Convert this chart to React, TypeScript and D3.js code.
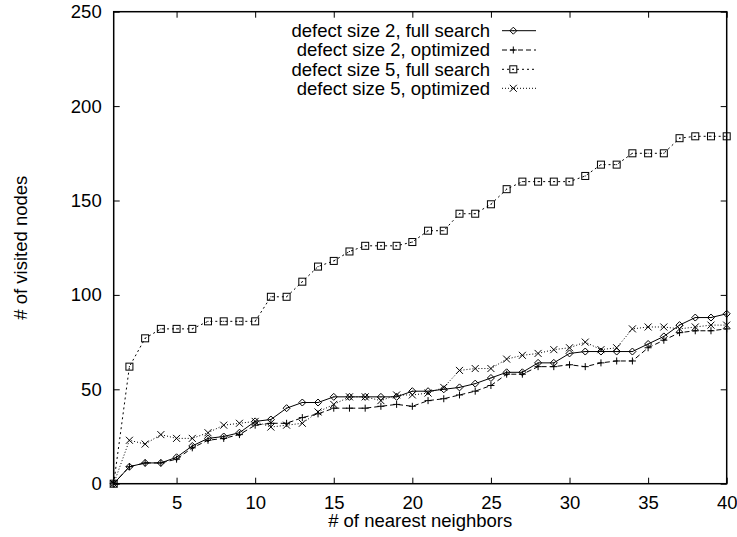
import React, { useEffect, useRef } from 'react';
import * as d3 from 'd3';

// number of nearest neighbors (x)
const neighbors = [1, 2, 3, 4, 5, 6, 7, 8, 9, 10, 11, 12, 13, 14, 15, 16, 17, 18, 19, 20,
  21, 22, 23, 24, 25, 26, 27, 28, 29, 30, 31, 32, 33, 34, 35, 36, 37, 38, 39, 40];

// # of visited nodes per series
const full2 = [0, 9, 11, 11, 14, 20, 24, 25, 27, 33, 34, 40, 43, 43, 46, 46, 46, 46, 46, 49,
  49, 50, 51, 53, 56, 59, 59, 64, 64, 69, 70, 70, 70, 70, 74, 78, 84, 88, 88, 90];
const opt2 = [0, 9, 11, 11, 13, 19, 23, 24, 26, 31, 32, 32, 35, 37, 40, 40, 40, 41, 42, 41,
  44, 45, 47, 49, 52, 58, 58, 62, 62, 63, 62, 64, 65, 65, 72, 76, 80, 81, 81, 82];
const full5 = [0, 62, 77, 82, 82, 82, 86, 86, 86, 86, 99, 99, 107, 115, 118, 123, 126, 126, 126, 128,
  134, 134, 143, 143, 148, 156, 160, 160, 160, 160, 163, 169, 169, 175, 175, 175, 183, 184, 184, 184];
const opt5 = [0, 23, 21, 26, 24, 24, 27, 31, 32, 33, 30, 31, 32, 38, 42, 46, 46, 44, 47, 47,
  48, 51, 60, 61, 61, 66, 68, 69, 71, 72, 75, 71, 72, 82, 83, 83, 82, 83, 84, 84];

const seriesNames = [
  'defect size 2, full search',
  'defect size 2, optimized',
  'defect size 5, full search',
  'defect size 5, optimized',
];
const seriesValues = [full2, opt2, full5, opt5];
const seriesDash = ['none', '5,3', '2,3', '1,2'];
const seriesMarker = ['diamond', 'plus', 'square', 'cross'];

const xTicks = [5, 10, 15, 20, 25, 30, 35, 40];
const yTicks = [0, 50, 100, 150, 200, 250];

const FONT = '"Liberation Sans", Arial, Helvetica, sans-serif';

function drawMarker(g: any, type: string, cx: number, cy: number) {
  const s = 3.5;
  const m = g.append('g').attr('transform', `translate(${cx},${cy})`)
    .attr('fill', 'none').attr('stroke', '#000').attr('stroke-width', 1);
  if (type === 'diamond') {
    m.append('path').attr('d', `M0,${-s}L${s},0L0,${s}L${-s},0Z`);
    m.append('rect').attr('x', -0.5).attr('y', -0.5).attr('width', 1).attr('height', 1).attr('fill', '#000').attr('stroke', 'none');
  } else if (type === 'plus') {
    m.append('path').attr('d', `M${-s},0H${s}M0,${-s}V${s}`);
  } else if (type === 'square') {
    m.append('rect').attr('x', -s).attr('y', -s).attr('width', 2 * s).attr('height', 2 * s);
    m.append('rect').attr('x', -0.5).attr('y', -0.5).attr('width', 1).attr('height', 1).attr('fill', '#000').attr('stroke', 'none');
  } else {
    m.append('path').attr('d', `M${-s},${-s}L${s},${s}M${-s},${s}L${s},${-s}`);
  }
}

function Chart() {
  const ref = useRef<SVGSVGElement>(null);

  useEffect(() => {
    const svg = d3.select(ref.current);
    svg.selectAll('*').remove();

    const left = 113.7, right = 726.7, top = 11.7, bottom = 483.7;

    const x = d3.scaleLinear().domain([1, 40]).range([left, right]);
    const y = d3.scaleLinear().domain([0, 250]).range([bottom, top]);

    // axes (gnuplot style: inward ticks, mirrored)
    const bx = svg.append('g').attr('transform', `translate(0,${bottom})`)
      .call(d3.axisBottom(x).tickValues(xTicks).tickSize(-6).tickPadding(12).tickFormat(d3.format('d')));
    const tx = svg.append('g').attr('transform', `translate(0,${top})`)
      .call(d3.axisTop(x).tickValues(xTicks).tickSize(-6).tickFormat(() => ''));
    const ly = svg.append('g').attr('transform', `translate(${left},0)`)
      .call(d3.axisLeft(y).tickValues(yTicks).tickSize(-6).tickPadding(12).tickFormat(d3.format('d')));
    const ry = svg.append('g').attr('transform', `translate(${right},0)`)
      .call(d3.axisRight(y).tickValues(yTicks).tickSize(-6).tickFormat(() => ''));
    [bx, tx, ly, ry].forEach(a => {
      a.select('.domain').remove();
      a.selectAll('line').attr('stroke', '#000').attr('stroke-width', 1);
      a.selectAll('text').style('font-family', FONT).style('font-size', '18.5px').attr('fill', '#000');
    });

    // frame
    svg.append('rect')
      .attr('x', left).attr('y', top)
      .attr('width', right - left).attr('height', bottom - top)
      .attr('fill', 'none').attr('stroke', '#000').attr('stroke-width', 1.5);

    const line = d3.line<number>()
      .x((_, i) => x(neighbors[i]))
      .y(d => y(d));

    seriesValues.forEach((vals, si) => {
      const g = svg.append('g');
      g.append('path')
        .datum(vals)
        .attr('d', line)
        .attr('fill', 'none')
        .attr('stroke', '#000')
        .attr('stroke-width', 1)
        .attr('stroke-dasharray', seriesDash[si]);
      vals.forEach((v, i) => drawMarker(g, seriesMarker[si], x(neighbors[i]), y(v)));
    });

    // legend
    const legendY = [30.7, 50, 69.3, 88.3];
    seriesNames.forEach((name, si) => {
      const ly0 = legendY[si];
      svg.append('text')
        .attr('x', 490).attr('y', ly0).attr('dy', '0.35em')
        .attr('text-anchor', 'end')
        .style('font-family', FONT).style('font-size', '18.5px')
        .text(name);
      svg.append('line')
        .attr('x1', 502).attr('x2', 536).attr('y1', ly0).attr('y2', ly0)
        .attr('stroke', '#000').attr('stroke-width', 1)
        .attr('stroke-dasharray', seriesDash[si]);
      drawMarker(svg, seriesMarker[si], 513.3, ly0);
    });

    // axis titles
    svg.append('text')
      .attr('x', (left + right) / 2).attr('y', 527)
      .attr('text-anchor', 'middle')
      .style('font-family', FONT).style('font-size', '18.5px')
      .text('# of nearest neighbors');
    svg.append('text')
      .attr('transform', `translate(27,${(top + bottom) / 2}) rotate(-90)`)
      .attr('text-anchor', 'middle')
      .style('font-family', FONT).style('font-size', '18.5px')
      .text('# of visited nodes');
  }, []);

  return (
    <svg ref={ref} width={737} height={537}
      style={{ position: 'absolute', left: 0, top: 0, background: '#fff' }} />
  );
}

export default function App() {
  return <Chart />;
}
